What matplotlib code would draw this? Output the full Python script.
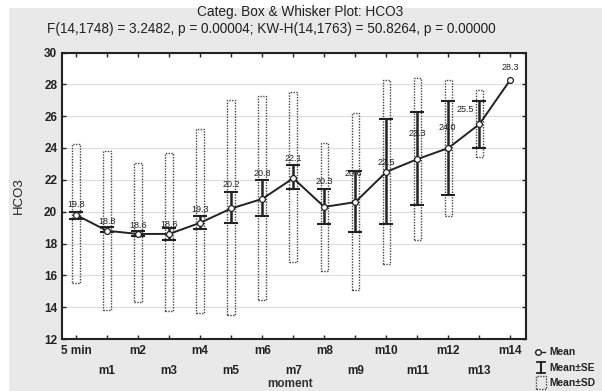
import numpy as np
import matplotlib
matplotlib.use("Agg")
import matplotlib.pyplot as plt
from matplotlib.patches import Rectangle
from matplotlib.lines import Line2D

# Categories and summary statistics for HCO3 per moment
moments = ["5 min", "m1", "m2", "m3", "m4", "m5", "m6", "m7",
           "m8", "m9", "m10", "m11", "m12", "m13", "m14"]
mean_vals = [19.8, 18.8, 18.6, 18.6, 19.3, 20.2, 20.8, 22.1,
             20.3, 20.6, 22.5, 23.3, 24.0, 25.5, 28.3]
se_low = [19.55, 18.7, 18.45, 18.25, 18.9, 19.3, 19.7, 21.4,
          19.2, 18.75, 19.2, 20.45, 21.05, 24.0, np.nan]
se_high = [20.0, 19.05, 18.8, 18.95, 19.75, 21.25, 22.0, 22.95,
           21.4, 22.55, 25.85, 26.25, 26.95, 26.95, np.nan]
sd_low = [15.5, 13.85, 14.35, 13.75, 13.65, 13.5, 14.45, 16.85,
          16.3, 15.1, 16.7, 18.2, 19.75, 23.45, np.nan]
sd_high = [24.25, 23.8, 23.05, 23.7, 25.2, 27.0, 27.25, 27.5,
           24.3, 26.2, 28.3, 28.4, 28.25, 27.65, np.nan]
y_ticks = [12, 14, 16, 18, 20, 22, 24, 26, 28, 30]

# value-label placement (offset in pixels from the mean marker)
label_offsets = [(0, 10), (0, 9), (0, 8), (0, 9), (0, 13), (0, 24), (0, 25),
                 (0, 20), (0, 25), (-2, 29), (0, 9), (0, 26), (-1, 20),
                 (-14, 15), (0, 12)]

W, H = 602, 391
fig = plt.figure(figsize=(W / 100, H / 100), dpi=100, facecolor="white")
plt.rcParams["font.family"] = ["Liberation Sans", "DejaVu Sans"]

# grey panel behind the chart
fig.patches.append(Rectangle((9 / W, 0), 1 - 9 / W, 1 - 8 / H,
                             transform=fig.transFigure, facecolor="#e9e9e9",
                             edgecolor="none", zorder=-10))

ax = fig.add_axes([62 / W, 1 - 339 / H, (526 - 62) / W, (339 - 52.5) / H])
ax.set_facecolor("white")

x = np.arange(len(moments))

for xi in x:
    lo, hi = sd_low[xi], sd_high[xi]
    if np.isnan(lo):
        continue
    ax.add_patch(Rectangle((xi - 0.12, lo), 0.24, hi - lo, facecolor="none",
                           edgecolor="#444444", linestyle=(0, (1, 1)),
                           linewidth=1.0, zorder=2))

se_mask = ~np.isnan(np.array(se_low))
xm = x[se_mask]
mv = np.array(mean_vals)[se_mask]
ax.errorbar(xm, mv,
            yerr=[mv - np.array(se_low)[se_mask], np.array(se_high)[se_mask] - mv],
            fmt="none", ecolor="#222222", elinewidth=1.8, capsize=5,
            capthick=1.5, zorder=3)

ax.plot(x, mean_vals, color="#222222", linewidth=1.4, zorder=4)
ax.plot(x, mean_vals, linestyle="none", marker="o", markersize=4.2,
        markerfacecolor="white", markeredgecolor="#222222",
        markeredgewidth=0.9, zorder=5)

for xi, v, (dx, dy) in zip(x, mean_vals, label_offsets):
    ax.annotate(f"{v:.1f}", (xi, v), xytext=(dx * 0.72, dy * 0.72),
                textcoords="offset points", ha="center", va="center",
                fontsize=6.5, color="#222222", zorder=6)

ax.set_xlim(-0.45, 14.5)
ax.set_ylim(12, 30)
ax.set_yticks(y_ticks)
ax.set_yticklabels([str(t) for t in y_ticks], fontsize=8.5, fontweight="bold")
ax.set_xticks(x)
ax.set_xticklabels(moments, fontsize=8.5, fontweight="bold")
ax.tick_params(direction="in", length=3, width=1, top=True, right=True,
               colors="#222222", labelcolor="#222222")
ax.tick_params(axis="x", pad=4)
for i, t in enumerate(ax.xaxis.get_major_ticks()):
    if i % 2 == 1:
        t.set_pad(19)
ax.grid(axis="y", color="#dcdcdc", linewidth=0.8)
ax.set_axisbelow(True)
for s in ax.spines.values():
    s.set_linewidth(1.5)
    s.set_color("#222222")

ax.set_ylabel("HCO3", fontsize=9.5, color="#222222", labelpad=14)
fig.text(290 / W, 1 - 384 / H, "moment", ha="center", va="center",
         fontsize=8.5, fontweight="bold", color="#333333")

fig.text(300 / W, 1 - 12 / H, "Categ. Box & Whisker Plot: HCO3", ha="center",
         va="center", fontsize=9.8, color="#222222")
fig.text(271 / W, 1 - 29 / H,
         "F(14,1748) = 3.2482, p = 0.00004; KW-H(14,1763) = 50.8264, p = 0.00000",
         ha="center", va="center", fontsize=9.8, color="#222222")

# legend drawn in figure pixels
def fx(px):
    return px / W

def fy(py):
    return 1 - py / H

fig.lines.append(Line2D([fx(535), fx(545)], [fy(352), fy(352)], color="#222222",
                        linewidth=1, transform=fig.transFigure))
fig.lines.append(Line2D([fx(538)], [fy(352)], marker="o", markersize=4,
                        markerfacecolor="white", markeredgecolor="#222222",
                        transform=fig.transFigure))
fig.lines.append(Line2D([fx(541), fx(541)], [fy(362), fy(373)], color="#222222",
                        linewidth=1.5, transform=fig.transFigure))
fig.lines.append(Line2D([fx(537), fx(545)], [fy(362), fy(362)], color="#222222",
                        linewidth=1.3, transform=fig.transFigure))
fig.lines.append(Line2D([fx(537), fx(545)], [fy(373), fy(373)], color="#222222",
                        linewidth=1.3, transform=fig.transFigure))
fig.patches.append(Rectangle((fx(536), fy(389)), 10 / W, 13 / H, facecolor="none",
                             edgecolor="#444444", linestyle=(0, (1, 1)),
                             linewidth=1, transform=fig.transFigure))
for py, txt in [(352, "Mean"), (368, "Mean±SE"), (383, "Mean±SD")]:
    fig.text(fx(549), fy(py), txt, ha="left", va="center", fontsize=7.4,
             fontweight="bold", color="#222222")

fig.savefig("out.png", dpi=100)
